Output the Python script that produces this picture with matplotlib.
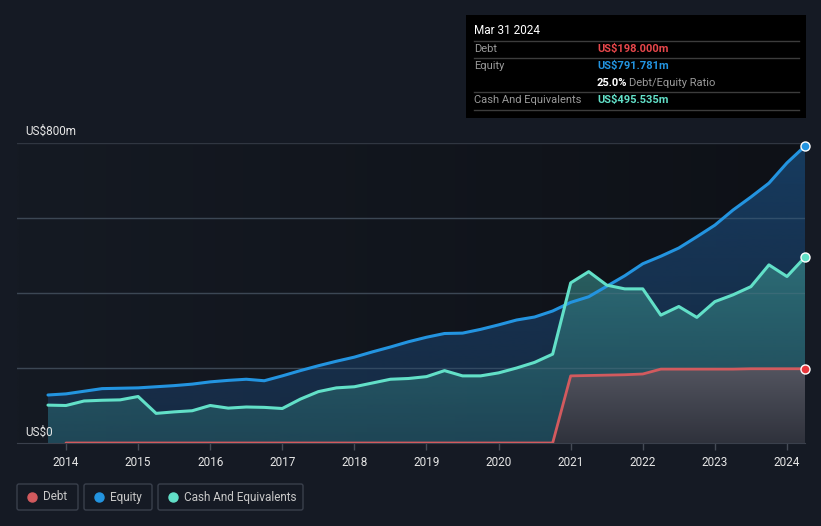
import matplotlib.pyplot as plt
import numpy as np
from matplotlib.colors import to_rgb
from matplotlib.patches import Rectangle, FancyBboxPatch, PathPatch
from matplotlib.path import Path

plt.rcParams['font.family'] = ['Roboto', 'DejaVu Sans']

# quarterly dates (decimal years)
equity_dates = [2013.75, 2014.0, 2014.25, 2014.5, 2014.75, 2015.0, 2015.25, 2015.5, 2015.75,
                2016.0, 2016.25, 2016.5, 2016.75, 2017.0, 2017.25, 2017.5, 2017.75,
                2018.0, 2018.25, 2018.5, 2018.75, 2019.0, 2019.25, 2019.5, 2019.75,
                2020.0, 2020.25, 2020.5, 2020.75, 2021.0, 2021.25, 2021.5, 2021.75,
                2022.0, 2022.25, 2022.5, 2022.75, 2023.0, 2023.25, 2023.5, 2023.75,
                2024.0, 2024.25]
equity = [128, 131, 138, 145, 146, 147, 150, 153, 157,
          163, 167, 170, 166, 179, 193, 206, 218,
          229, 243, 256, 270, 282, 292, 293, 303,
          315, 328, 336, 352, 375, 390, 418, 446,
          478, 498, 520, 550, 581, 621, 656, 693,
          747, 791.781]

cash_dates = equity_dates
cash = [101, 100, 112, 114, 115, 124, 79, 83, 86,
        100, 93, 96, 95, 92, 117, 137, 147,
        150, 160, 170, 172, 177, 193, 179, 179,
        187, 200, 215, 237, 427, 457, 421, 411,
        411, 341, 364, 335, 377, 395, 417, 475,
        444, 495.535]

debt_dates = equity_dates[1:]
debt = [0] * 28 + [179, 180, 181, 182,
                   184, 197, 197, 197, 197, 197, 198, 198,
                   198, 198.0]

years = list(range(2014, 2025))

BG = '#151a24'
C_EQ = '#2394e0'
C_CASH = '#62e0c8'
C_DEBT = '#d25a5e'
GRID = '#303641'


def gradient_fill(ax, x, y, c_top, c_bot, a_top, a_bot, z):
    x = np.asarray(x, float)
    y = np.asarray(y, float)
    verts = [(x[0], 0)] + list(zip(x, y)) + [(x[-1], 0)]
    poly = PathPatch(Path(verts), facecolor='none', edgecolor='none')
    ax.add_patch(poly)
    t = np.linspace(0, 1, 256)[:, None]
    grad = np.zeros((256, 1, 4))
    grad[:, 0, :3] = (1 - t) * np.array(to_rgb(c_top)) + t * np.array(to_rgb(c_bot))
    grad[:, 0, 3] = np.linspace(a_top, a_bot, 256)
    im = ax.imshow(grad, aspect='auto', extent=[x[0], x[-1], 0, y.max()],
                   origin='upper', zorder=z, interpolation='bilinear')
    im.set_clip_path(poly)


fig = plt.figure(figsize=(8.21, 5.26), dpi=100, facecolor=BG)
W, H = 821, 526
ax = fig.add_axes([17 / W, (H - 443) / H, (805 - 17) / W, 300 / H])
x0, x1 = 2014 - 49 / 72.1, 2024.25
ax.set_xlim(x0, x1)
ax.set_ylim(0, 800)

# horizontal background gradient inside the plot area
bg = np.zeros((1, 256, 3))
s = np.linspace(0, 1, 256)[None, :, None]
bg[:] = (1 - s) * np.array(to_rgb('#151a23')) + s * np.array(to_rgb('#0e1117'))
ax.imshow(bg, aspect='auto', extent=[x0, x1, 0, 800], zorder=0, interpolation='bilinear')

for v in [200, 400, 600, 800]:
    ax.axhline(v, color=GRID, lw=1, zorder=1)

gradient_fill(ax, equity_dates, equity, '#1a4a78', '#1a3a60', 0.75, 0.55, 2)
gradient_fill(ax, cash_dates, cash, '#3a8c8a', '#2a6a70', 0.65, 0.45, 3)
gradient_fill(ax, debt_dates, debt, '#55545f', '#30323c', 0.97, 0.97, 4)

# grid shows faintly through the fills
for v in [200, 400, 600]:
    ax.axhline(v, color='#5a7080', lw=1, alpha=0.3, zorder=4.5)

ax.plot(equity_dates, equity, color=C_EQ, lw=2.2, zorder=5, solid_capstyle='round')
ax.plot(cash_dates, cash, color=C_CASH, lw=2.2, zorder=6, solid_capstyle='round')
ax.plot(debt_dates, debt, color=C_DEBT, lw=2.0, zorder=7, solid_capstyle='round')

for ser, c in [(equity, C_EQ), (cash, C_CASH), (debt, '#e8363c')]:
    ax.plot(2024.25, ser[-1], 'o', ms=6.5, color=c, mec='white', mew=1,
            zorder=8, clip_on=False)

for sp in ['top', 'right', 'left']:
    ax.spines[sp].set_visible(False)
ax.spines['bottom'].set_color('#3a404c')
ax.set_yticks([])
ax.set_xticks(years)
ax.set_xticklabels([str(y) for y in years])
ax.tick_params(axis='x', colors='#454b56', length=5, width=1, labelcolor='#e6e6e6',
               labelsize=8.5, pad=4)

# overlay in pixel coords
ov = fig.add_axes([0, 0, 1, 1])
ov.set_xlim(0, W)
ov.set_ylim(H, 0)
ov.axis('off')
ov.patch.set_alpha(0)

ov.text(25, 131, 'US$800m', color='#e6e6e6', fontsize=8.5, va='center')
ov.text(25, 432, 'US$0', color='#e6e6e6', fontsize=8.5, va='center')

# tooltip
ov.add_patch(Rectangle((466, 15), 340, 103, facecolor='#000000', edgecolor='none'))
ov.text(474, 31, 'Mar 31 2024', color='white', fontsize=8.5, va='center')
for yy in [41, 58, 92, 110]:
    ov.plot([474, 799], [yy, yy], color='#3c3c3c', lw=1)
rows = [(49, 'Debt', 'US$198.000m', '#e8474b'),
        (66, 'Equity', 'US$791.781m', '#2394e0'),
        (100, 'Cash And Equivalents', 'US$495.535m', '#62e0c8')]
for yy, lab, val, c in rows:
    ov.text(474, yy, lab, color='#9a9a9a', fontsize=8, va='center')
    ov.text(597, yy, val, color=c, fontsize=8, va='center', fontweight='bold')
ov.text(597, 83, '25.0%', color='white', fontsize=8, va='center', fontweight='bold')
ov.text(629, 83, 'Debt/Equity Ratio', color='#9a9a9a', fontsize=8, va='center')

# legend boxes
legend = [(17, 78, 'Debt', C_DEBT), (84, 152, 'Equity', C_EQ),
          (158, 303, 'Cash And Equivalents', C_CASH)]
for lx0, lx1, lab, c in legend:
    ov.add_patch(FancyBboxPatch((lx0, 484), lx1 - lx0, 26, boxstyle='round,pad=0,rounding_size=2',
                                facecolor='none', edgecolor='#3a404c', lw=1))
    ov.plot(lx0 + 15, 497, 'o', ms=6.5, color=c)
    ov.text(lx0 + 26, 497, lab, color='#c8c8c8', fontsize=8.5, va='center')

plt.savefig('out.png', dpi=100, facecolor=BG)
